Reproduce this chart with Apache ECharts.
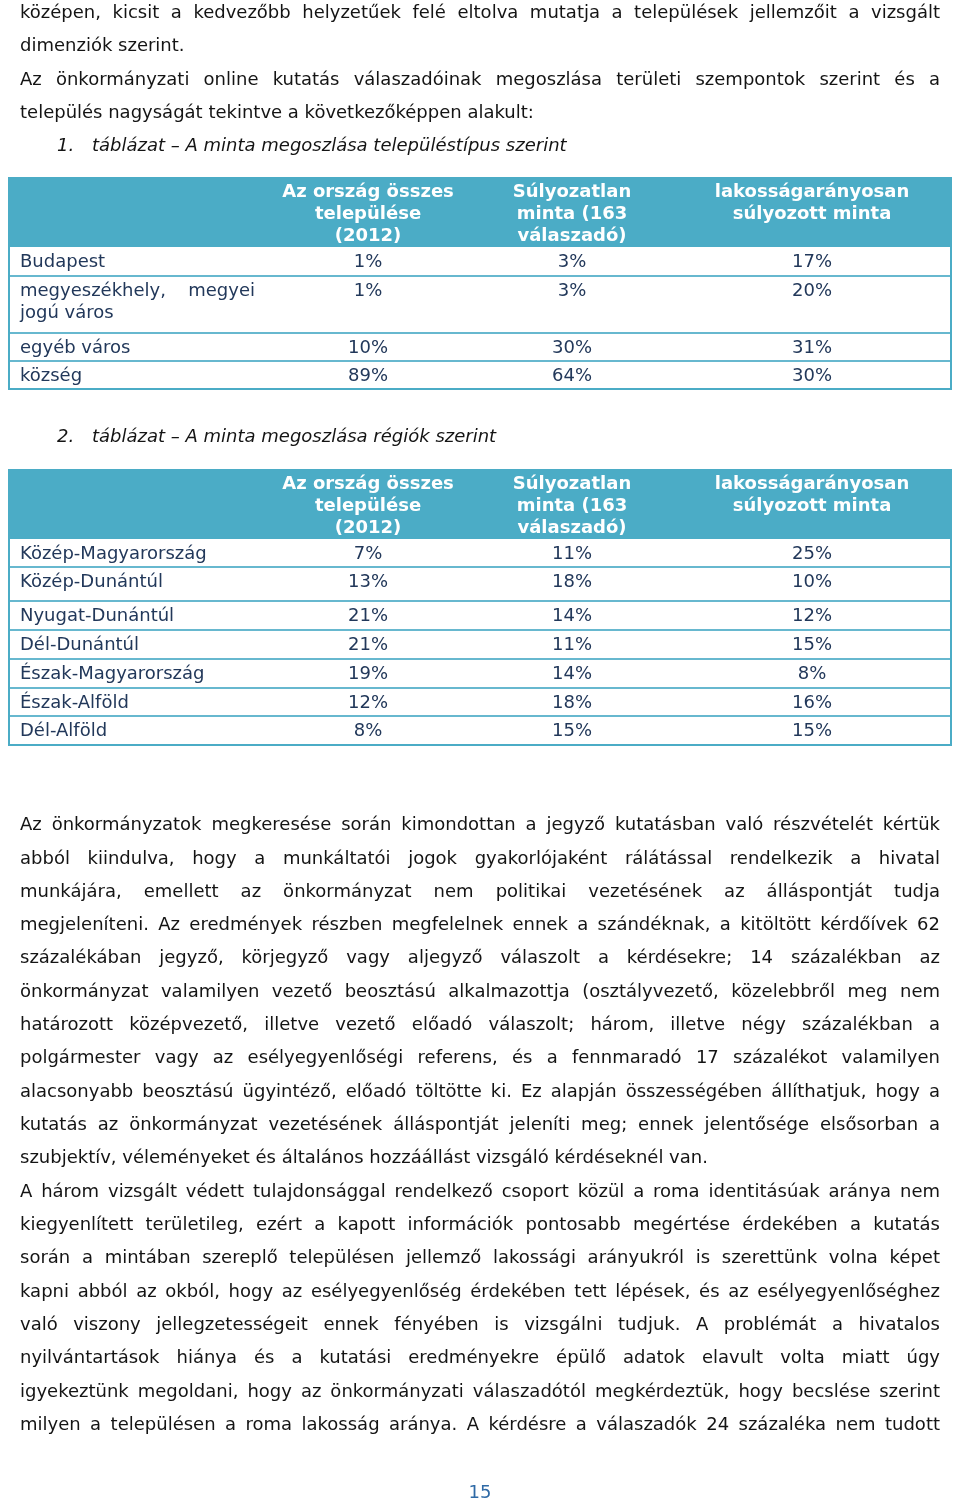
<!DOCTYPE html>
<html>
<head>
<meta charset="utf-8">
<script src="https://cdn.jsdelivr.net/npm/echarts@6/dist/echarts.min.js"></script>
<style>
  html, body { margin: 0; padding: 0; background: #ffffff; }
  #page { width: 960px; height: 1505px; }
</style>
</head>
<body>
<div id="page"></div>
<script>
// ---------------- DATA ----------------
const introLines = [
  "középen, kicsit a kedvezőbb helyzetűek felé eltolva mutatja a települések jellemzőit a vizsgált",
  "dimenziók szerint.",
  "Az önkormányzati online kutatás válaszadóinak megoszlása területi szempontok szerint és a",
  "település nagyságát tekintve a következőképpen alakult:"
];
const introJustify = [true, false, true, false];

const caption1 = ["1.", "táblázat – A minta megoszlása településtípus szerint"];
const caption2 = ["2.", "táblázat – A minta megoszlása régiók szerint"];

const headerCols = [
  ["Az ország összes", "települése", "(2012)"],
  ["Súlyozatlan", "minta (163", "válaszadó)"],
  ["lakosságarányosan", "súlyozott minta"]
];

const t1Rows = ["Budapest", "megyeszékhely, megyei jogú város", "egyéb város", "község"];
const t1National   = [1, 1, 10, 89];
const t1Unweighted = [3, 3, 30, 64];
const t1Weighted   = [17, 20, 31, 30];

const t2Rows = ["Közép-Magyarország", "Közép-Dunántúl", "Nyugat-Dunántúl", "Dél-Dunántúl",
                "Észak-Magyarország", "Észak-Alföld", "Dél-Alföld"];
const t2National   = [7, 13, 21, 21, 19, 12, 8];
const t2Unweighted = [11, 18, 14, 11, 14, 18, 15];
const t2Weighted   = [25, 10, 12, 15, 8, 16, 15];

const bodyLines = [
  "Az önkormányzatok megkeresése során kimondottan a jegyző kutatásban való részvételét kértük",
  "abból kiindulva, hogy a munkáltatói jogok gyakorlójaként rálátással rendelkezik a hivatal",
  "munkájára, emellett az önkormányzat nem politikai vezetésének az álláspontját tudja",
  "megjeleníteni. Az eredmények részben megfelelnek ennek a szándéknak, a kitöltött kérdőívek 62",
  "százalékában jegyző, körjegyző vagy aljegyző válaszolt a kérdésekre; 14 százalékban az",
  "önkormányzat valamilyen vezető beosztású alkalmazottja (osztályvezető, közelebbről meg nem",
  "határozott középvezető, illetve vezető előadó válaszolt; három, illetve négy százalékban a",
  "polgármester vagy az esélyegyenlőségi referens, és a fennmaradó 17 százalékot valamilyen",
  "alacsonyabb beosztású ügyintéző, előadó töltötte ki. Ez alapján összességében állíthatjuk, hogy a",
  "kutatás az önkormányzat vezetésének álláspontját jeleníti meg; ennek jelentősége elsősorban a",
  "szubjektív, véleményeket és általános hozzáállást vizsgáló kérdéseknél van.",
  "A három vizsgált védett tulajdonsággal rendelkező csoport közül a roma identitásúak aránya nem",
  "kiegyenlített területileg, ezért a kapott információk pontosabb megértése érdekében a kutatás",
  "során a mintában szereplő településen jellemző lakossági arányukról is szerettünk volna képet",
  "kapni abból az okból, hogy az esélyegyenlőség érdekében tett lépések, és az esélyegyenlőséghez",
  "való viszony jellegzetességeit ennek fényében is vizsgálni tudjuk. A problémát a hivatalos",
  "nyilvántartások hiánya és a kutatási eredményekre épülő adatok elavult volta miatt úgy",
  "igyekeztünk megoldani, hogy az önkormányzati válaszadótól megkérdeztük, hogy becslése szerint",
  "milyen a településen a roma lakosság aránya. A kérdésre a válaszadók 24 százaléka nem tudott"
];
const bodyJustify = [true,true,true,true,true,true,true,true,true,true,false,
                     true,true,true,true,true,true,true,true];
const pageNumber = "15";

// ---------------- LAYOUT ----------------
const FONT_FAMILY = '"DejaVu Sans", Verdana, sans-serif';
const FS = 18;
const TEXT_COLOR = '#141414';
const TABLE_TEXT = '#22385a';
const ACCENT = '#4bacc6';
const INNER_LINE = '#67b8cf';
const LEFT = 20, RIGHT = 940;
const TABLE_L = 8, TABLE_R = 951;
const COL_CENTERS = [368, 572, 812];
const HEADER_H = 70;
const T1_TOP = 177, T2_TOP = 469;
const T1_ROW_H = [29, 57, 28, 28];
const T2_ROW_H = [28, 34, 29, 29, 29, 28, 29];
const TEXT_DY = 1.5;

const measureCtx = document.createElement('canvas').getContext('2d');
function measure(text, font) { measureCtx.font = font; return measureCtx.measureText(text).width; }

const els = [];
const normalFont = FS + 'px ' + FONT_FAMILY;
const boldFont = 'bold ' + FS + 'px ' + FONT_FAMILY;
const italicFont = 'italic ' + FS + 'px ' + FONT_FAMILY;

function addText(text, x, y, opts) {
  opts = opts || {};
  els.push({
    type: 'text', x: x, y: y + TEXT_DY, z: 10,
    style: {
      text: text,
      font: opts.font || normalFont,
      fill: opts.fill || TEXT_COLOR,
      align: opts.align || 'left',
      verticalAlign: 'middle'
    }
  });
}

function addLine(text, y, justify, left, right, font, fill) {
  left = left == null ? LEFT : left; right = right == null ? RIGHT : right;
  font = font || normalFont;
  const words = text.split(' ');
  const widths = words.map(w => measure(w, font));
  const total = widths.reduce((a, b) => a + b, 0);
  const gap = (justify && words.length > 1) ? (right - left - total) / (words.length - 1) : measure(' ', font);
  let x = left;
  words.forEach((w, i) => { addText(w, x, y, { font: font, fill: fill }); x += widths[i] + gap; });
}

function addRect(x, y, w, h, fill) {
  els.push({ type: 'rect', shape: { x: x, y: y, width: w, height: h }, style: { fill: fill }, z: 1 });
}
function addHLine(x1, x2, y, color, width) {
  els.push({ type: 'line', shape: { x1: x1, y1: y, x2: x2, y2: y }, style: { stroke: color, lineWidth: width }, z: 5 });
}
function addVLine(x, y1, y2, color, width) {
  els.push({ type: 'line', shape: { x1: x, y1: y1, x2: x, y2: y2 }, style: { stroke: color, lineWidth: width }, z: 5 });
}

// intro text
introLines.forEach((l, i) => addLine(l, 12 + i * 33.2, introJustify[i]));

function addCaption(cap, y) {
  addText(cap[0], 57, y, { font: italicFont });
  addText(cap[1], 92, y, { font: italicFont });
}

function addTable(top, rows, rowH, national, unweighted, weighted) {
  const totalH = HEADER_H + rowH.reduce((a, b) => a + b, 0);
  addRect(TABLE_L, top, TABLE_R - TABLE_L, HEADER_H, ACCENT);
  headerCols.forEach((lines, c) => {
    lines.forEach((t, k) => addText(t, COL_CENTERS[c], top + 14 + k * 22, { font: boldFont, fill: '#ffffff', align: 'center' }));
  });
  let y = top + HEADER_H;
  rows.forEach((label, r) => {
    const cy = y + 13.5;
    if (label === "megyeszékhely, megyei jogú város") {
      addText("megyeszékhely,", LEFT, cy, { fill: TABLE_TEXT });
      addText("megyei", 255, cy, { fill: TABLE_TEXT, align: 'right' });
      addText("jogú város", LEFT, cy + 22, { fill: TABLE_TEXT });
    } else {
      addText(label, LEFT, cy, { fill: TABLE_TEXT });
    }
    [national, unweighted, weighted].forEach((arr, c) => {
      addText(arr[r] + '%', COL_CENTERS[c], cy, { fill: TABLE_TEXT, align: 'center' });
    });
    y += rowH[r];
    if (r < rows.length - 1) addHLine(TABLE_L, TABLE_R, y, INNER_LINE, 2);
  });
  addHLine(TABLE_L, TABLE_R, top + totalH, ACCENT, 2);
  addHLine(TABLE_L, TABLE_R, top + 1, ACCENT, 2);
  addVLine(TABLE_L + 1, top, top + totalH + 1, ACCENT, 2);
  addVLine(TABLE_R, top, top + totalH + 1, ACCENT, 2);
}

addCaption(caption1, 145);
addTable(T1_TOP, t1Rows, T1_ROW_H, t1National, t1Unweighted, t1Weighted);
addCaption(caption2, 436);
addTable(T2_TOP, t2Rows, T2_ROW_H, t2National, t2Unweighted, t2Weighted);

bodyLines.forEach((l, i) => addLine(l, 824 + i * 33.33, bodyJustify[i]));

addText(pageNumber, 480, 1492, { fill: '#2f6aa6', align: 'center' });

const chart = echarts.init(document.getElementById('page'), null, { renderer: 'canvas', width: 960, height: 1505 });
chart.setOption({
  backgroundColor: '#ffffff',
  animation: false,
  graphic: { elements: els }
});
</script>
</body>
</html>
